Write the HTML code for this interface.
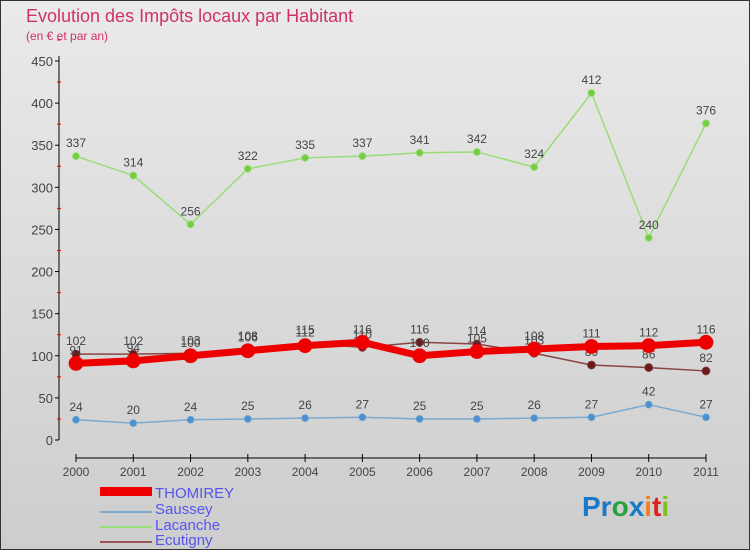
<!DOCTYPE html>
<html><head><meta charset="utf-8"><style>
body{margin:0}
#c{width:750px;height:550px;position:relative;overflow:hidden;font-family:"Liberation Sans",sans-serif}
</style></head><body>
<div id="c">
<svg id="s" width="750" height="550" xmlns="http://www.w3.org/2000/svg">
<defs><linearGradient id="bg" x1="0" y1="0" x2="0" y2="1"><stop offset="0" stop-color="#eaeaea"/><stop offset="1" stop-color="#cdcdcd"/></linearGradient></defs>
<rect x="0.5" y="0.5" width="749" height="549" fill="url(#bg)" stroke="#333"/>
<text x="26" y="22" font-size="18" fill="#d0306a">Evolution des Impôts locaux par Habitant</text>
<text x="26" y="40" font-size="12" fill="#d0306a">(en € et par an)</text>
<g id="axes"></g><g id="plot"></g>
<g font-size="15" fill="#5555ee">
<rect x="100" y="487" width="52" height="9" fill="#e00"/>
<text x="155" y="498">THOMIREY</text>
<line x1="100" y1="512" x2="152" y2="512" stroke="#7aaad0" stroke-width="2"/>
<text x="155" y="514">Saussey</text>
<line x1="100" y1="527" x2="152" y2="527" stroke="#99dd77" stroke-width="2"/>
<text x="155" y="530">Lacanche</text>
<line x1="100" y1="542" x2="152" y2="542" stroke="#995555" stroke-width="2"/>
<text x="155" y="545">Ecutigny</text>
</g>
<g font-size="28" font-weight="bold">
<text x="582" y="516"><tspan fill="#1a7ac8">Pr</tspan><tspan fill="#28a040">o</tspan><tspan fill="#1a7ac8">x</tspan><tspan fill="#f08020">i</tspan><tspan fill="#e02020">t</tspan><tspan fill="#80c020">i</tspan></text>
</g>
</svg></div>
<script>
const years=["2000","2001","2002","2003","2004","2005","2006","2007","2008","2009","2010","2011"];
const yTicks=[0,50,100,150,200,250,300,350,400,450];
const thomirey=[91,94,100,106,112,116,100,105,108,111,112,116];
const saussey=[24,20,24,25,26,27,25,25,26,27,42,27];
const lacanche=[337,314,256,322,335,337,341,342,324,412,240,376];
const ecutigny=[102,102,103,108,115,110,116,114,103,89,86,82];
const NS="http://www.w3.org/2000/svg";
const X=i=>76+i*(706-76)/(years.length-1);
const Y=v=>440-v*(440-61)/450;
function mk(t,a,p){const e=document.createElementNS(NS,t);for(const k in a)e.setAttribute(k,a[k]);p.appendChild(e);return e;}
const ax=document.getElementById('axes'),pl=document.getElementById('plot');
const ya=mk('line',{x1:59,y1:56,x2:59,y2:440,stroke:'#000'},ax);


const xa=mk('line',{x1:76,y1:458,x2:706,y2:458,stroke:'#000'},ax);


yTicks.forEach(v=>{
 mk('line',{x1:55,y1:Y(v),x2:59,y2:Y(v),stroke:'#000'},ax);
 mk('line',{x1:57,y1:Y(v+25),x2:61,y2:Y(v+25),stroke:'#e00'},ax);
 const t=mk('text',{x:53,y:Y(v)+5,'text-anchor':'end','font-size':13,fill:'#444'},ax);t.textContent=v;
 
 
});
years.forEach((y,i)=>{
 mk('line',{x1:X(i),y1:454,x2:X(i),y2:462,stroke:'#000'},ax);
 const t=mk('text',{x:X(i),y:476,'text-anchor':'middle','font-size':12,fill:'#444'},ax);t.textContent=y;
 
 
});
function series(d,name,col,dot,w,r){
 const g=mk('g',{},pl);
 
 
 mk('polyline',{points:d.map((v,i)=>X(i)+','+Y(v)).join(' '),fill:'none',stroke:col,'stroke-width':w},g);
 d.forEach((v,i)=>{
  const c=mk('circle',{cx:X(i),cy:Y(v),r:r,fill:dot,stroke:col,'stroke-width':0.8},g);
  
  
  const t=mk('text',{x:X(i),y:Y(v)-9,'text-anchor':'middle','font-size':12,fill:'#444'},g);t.textContent=v;
  
  
 });
}
series(lacanche,'lacanche','#99dd77','#77cc44',1.5,3.5);
series(saussey,'saussey','#7aaad0','#4b90d0',1.5,3.5);
series(ecutigny,'ecutigny','#884444','#6a1a1a',1.5,4);
series(thomirey,'thomirey','#ee0000','#ee0000',7,7);
</script>
</body></html>
